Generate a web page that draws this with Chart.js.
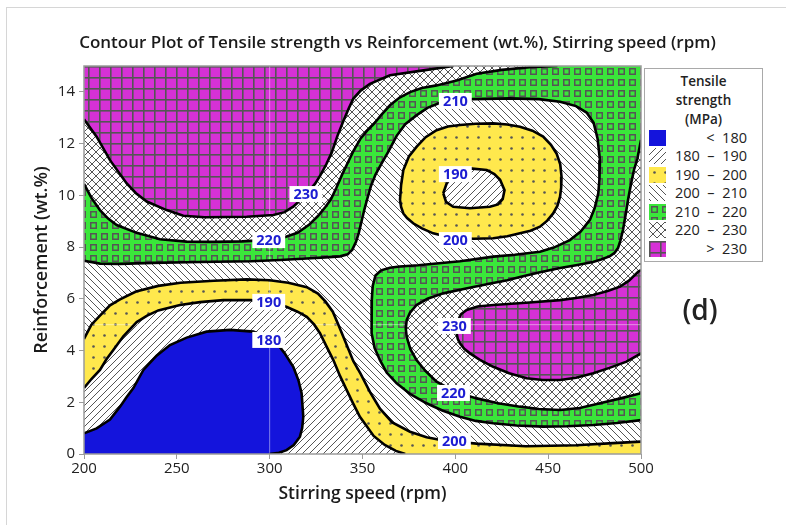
<!DOCTYPE html>
<html>
<head>
<meta charset="utf-8">
<title>Contour Plot of Tensile strength</title>
<script src="https://cdn.jsdelivr.net/npm/chart.js@4.4.1/dist/chart.umd.min.js"></script>
<style>
  html, body { margin: 0; padding: 0; background: #fff; }
  #wrap { position: relative; width: 786px; height: 525px; font-family: "Open Sans", sans-serif; color: #222; }
  #frame { position: absolute; left: 6px; top: 7px; right: 0; bottom: 0; border-top: 1px solid #d6d6d6; border-left: 1px solid #d6d6d6; pointer-events: none; }
  #legend { position: absolute; left: 644px; top: 68px; width: 119px; height: 194px; box-sizing: border-box; border: 1px solid #a9a9a9; background: #fff; }
  #legend .lt { position: absolute; left: 0; right: 0; top: 3px; text-align: center; font-size: 13.5px; font-weight: 600; line-height: 19px; }
  #legend .row { position: absolute; left: 4px; right: 15px; height: 18px; }
  #legend .row canvas { position: absolute; left: 0; top: 1px; }
  #legend .row span { position: absolute; right: 0; top: 0; font-size: 14.5px; line-height: 18px; white-space: pre; }
  #tag { position: absolute; left: 650px; width: 100px; top: 292px; text-align: center; font-size: 28px; font-weight: 600; line-height: 34px; }
</style>
</head>
<body>
<div id="wrap">
  <canvas id="chart" width="786" height="525"></canvas>
  <div id="frame"></div>
  <div id="legend"><div class="lt">Tensile<br>strength<br>(MPa)</div></div>
  <div id="tag">(d)</div>
</div>
<script>
const speedTicks = [200, 250, 300, 350, 400, 450, 500];
const reinfTicks = [0, 2, 4, 6, 8, 10, 12, 14];

// contour lines, [stirring speed (rpm), reinforcement (wt.%)]
const c180 = [[200,0.8],[206.8,0.99],[214,1.33],[219.4,1.83],[223,2.2],[226.6,2.55],[232,3.25],[239.1,3.8],[246.3,4.21],[255.3,4.5],[266,4.73],[278.6,4.8],[291.2,4.73],[299,4.5],[303.8,4.28],[308,3.9],[312.7,3.37],[315.5,2.85],[317.2,2.35],[318.1,1.44],[317.5,1.0],[316.3,0.67],[313,0.35],[309.1,0.15],[305,0.05],[300,0]];
const c190a = [[200,2.55],[204,2.9],[208.6,3.25],[212,3.65],[215.8,4.02],[221.2,4.55],[228.4,5.1],[234,5.35],[240,5.55],[251.7,5.76],[262.5,5.87],[275,5.95],[290,5.95],[300,5.85],[309,5.69],[315,5.5],[320,5.3],[324,5.0],[327.1,4.67],[331,4.1],[334.3,3.63],[338,3.0],[341.5,2.47],[345,1.95],[348.6,1.44],[352,1.1],[356,0.7],[362,0.35],[368,0.12],[373,0]];
const c190b = [[393.5,10.08],[395.3,10.45],[398,10.75],[400.7,10.9],[407.9,11.04],[416.9,10.98],[421,10.82],[424.1,10.6],[426.5,10.2],[425.5,9.85],[423,9.65],[418.6,9.56],[407.9,9.5],[398.9,9.56],[395,9.75],[393.5,10.08]];
const c200a = [[200,4.45],[204,5.0],[208.6,5.35],[214,5.75],[219.4,5.98],[228,6.28],[240,6.5],[252,6.62],[270,6.7],[287.6,6.75],[300,6.72],[310,6.62],[320,6.45],[326,6.2],[330,5.9],[334,5.5],[337,5.0],[341,4.3],[345,3.6],[349,3.1],[354,2.4],[359.4,1.75],[366,1.22],[375.6,0.86],[384.5,0.65],[395,0.5],[411.5,0.4],[438,0.3],[465,0.34],[485,0.42],[500,0.48]];
const c200b = [[370.2,9.82],[370.8,10.4],[372,10.98],[375,11.5],[379.2,11.88],[384,12.25],[389.9,12.52],[396,12.66],[402.5,12.72],[411,12.77],[420.4,12.78],[428,12.74],[434.8,12.65],[441.5,12.5],[447.3,12.27],[451.5,11.95],[454.5,11.62],[456.5,11.2],[457.2,10.72],[457,10.3],[456.4,9.95],[455,9.6],[452.7,9.3],[449.5,9.02],[445.6,8.79],[440.5,8.63],[434.8,8.53],[428,8.42],[420.4,8.34],[410,8.32],[402.5,8.34],[394.5,8.42],[388.1,8.53],[382,8.72],[377.3,8.92],[374,9.12],[372,9.3],[370.8,9.55],[370.2,9.82]];
const c210 = [[200,7.47],[208.6,7.36],[219.4,7.35],[237,7.39],[262.5,7.42],[290,7.45],[305.6,7.5],[320,7.56],[330,7.6],[337.9,7.64],[342,7.72],[344.5,7.9],[346.5,8.2],[348,8.55],[349.5,9.0],[351,9.45],[352.5,9.85],[354.5,10.35],[357,10.8],[360,11.2],[364,11.7],[368.4,12.3],[373,12.75],[379.2,13.1],[385,13.38],[391.7,13.58],[400,13.68],[409.7,13.72],[429.4,13.75],[445,13.72],[456.4,13.62],[465,13.45],[470.7,13.2],[474.5,12.8],[476.6,12.2],[477.9,11.36],[477.6,10.6],[477,10.08],[475,9.5],[472.5,9.05],[467.5,8.6],[461.7,8.27],[453,7.98],[445.6,7.82],[432,7.7],[420.4,7.63],[402.5,7.45],[380,7.3],[370,7.25],[364.8,7.2],[360,7.1],[357,6.9],[355.5,6.5],[355,5.95],[354.8,5.3],[355,4.67],[356.5,4.1],[359.4,3.63],[363,3.15],[368.4,2.73],[376,2.3],[384.5,1.96],[393,1.68],[402.5,1.44],[411,1.28],[420.4,1.19],[433,1.1],[447.3,1.06],[460,1.07],[474.3,1.12],[487,1.2],[500,1.31]];
const c220a = [[200,10.44],[204,9.9],[208.6,9.43],[213,9.1],[217.6,8.85],[228.4,8.55],[240.9,8.3],[255.3,8.21],[270,8.2],[285,8.22],[298,8.27],[308,8.38],[315,8.55],[321,8.85],[326,9.2],[330,9.55],[333,9.85],[336,10.3],[339,10.8],[342,11.25],[345,11.7],[349,12.2],[352.5,12.5],[356,12.75],[360,13.1],[364.8,13.48],[370,13.78],[375.6,13.99],[382,14.15],[389.9,14.25],[400.7,14.44],[411.5,14.7],[425,14.85],[440,14.95],[455,15]];
const c220b = [[500,12.14],[498,11.4],[496.2,10.98],[494.5,10.4],[493,9.82],[491.6,9.2],[490.3,8.66],[488.9,8.25],[487.6,7.96],[485.8,7.78],[483.3,7.65],[478.5,7.52],[474.1,7.42],[465,7.3],[456.4,7.19],[445,7.02],[434.8,6.84],[428,6.72],[420.3,6.61],[407,6.42],[393.5,6.21],[385,6.0],[379.1,5.76],[375.5,5.45],[373.8,5.18],[373.3,4.85],[373.8,4.53],[375.8,4.05],[379.1,3.63],[384,3.2],[389.9,2.8],[400,2.4],[411.5,2.15],[423,1.96],[434.8,1.83],[445,1.74],[456.4,1.7],[467,1.78],[477.9,1.96],[489,2.15],[500,2.35]];
const c230a = [[200,12.94],[206.8,12.27],[214,11.36],[223,10.46],[228,10.08],[233.8,9.76],[244.5,9.43],[253.5,9.21],[265,9.15],[287.6,9.17],[302,9.24],[308,9.35],[312.7,9.56],[317,9.85],[321,10.15],[324.5,10.45],[327.5,10.8],[330.5,11.2],[333.4,11.65],[336.5,12.3],[339.7,12.87],[342.5,13.35],[345,13.73],[349,14.05],[354,14.31],[364.8,14.64],[382.8,14.83],[398.9,15]];
const c230b = [[500,7.11],[498.6,7.05],[493.5,6.7],[488.7,6.47],[482,6.3],[474.3,6.15],[465,6.03],[456.4,5.95],[440,5.86],[420.4,5.76],[412,5.7],[406.1,5.57],[403,5.4],[401.6,5.18],[400.9,4.95],[400.7,4.67],[401.3,4.45],[402.5,4.28],[404.8,4.07],[407.9,3.89],[413,3.65],[420.4,3.37],[429,3.12],[438.4,2.93],[447,2.86],[456.4,2.86],[465,2.95],[474.3,3.12],[483,3.33],[492.2,3.57],[500,3.89]];

const legendText = ['<  180', '180  \u2013  190', '190  \u2013  200', '200  \u2013  210', '210  \u2013  220', '220  \u2013  230', '>  230'];
const legendKind = ['blue', 'fwd', 'dots', 'back', 'squares', 'cross', 'grid'];

const labelText = ['230', '220', '210', '190', '200', '190', '180', '230', '220', '200'];
const labelX = [319.5, 299.5, 400, 400, 400, 299.5, 299.5, 399.5, 399, 399.5];
const labelY = [10.05, 8.27, 13.65, 10.82, 8.27, 5.88, 4.41, 4.95, 2.36, 0.5];

// fill patterns, as in the Minitab legend
function tile(size, bg, draw) {
  const c = document.createElement('canvas');
  c.width = size; c.height = size;
  const g = c.getContext('2d');
  g.fillStyle = bg; g.fillRect(0, 0, size, size);
  g.strokeStyle = '#555'; g.fillStyle = '#555';
  draw(g, size);
  return c;
}
function diag(g, s, dir) {
  g.lineWidth = 1;
  g.beginPath();
  for (let k = -1; k <= 1; k++) {
    if (dir > 0) { g.moveTo(k * s, s); g.lineTo(k * s + s, 0); }
    else { g.moveTo(k * s, 0); g.lineTo(k * s + s, s); }
  }
  g.stroke();
}
const tiles = {
  blue: tile(8, '#1414dc', () => {}),
  fwd: tile(7, '#fff', (g, s) => diag(g, s, 1)),
  dots: tile(11, '#ffe84d', (g, s) => { g.beginPath(); g.arc(s / 2, s / 2, 1.3, 0, Math.PI * 2); g.fill(); }),
  back: tile(7, '#fff', (g, s) => diag(g, s, -1)),
  squares: tile(11, '#3ae63a', g => { g.lineWidth = 1.5; g.strokeRect(2.75, 2.75, 5.5, 5.5); }),
  cross: tile(8, '#fff', (g, s) => { diag(g, s, 1); diag(g, s, -1); }),
  grid: tile(11, '#d631d6', (g, s) => { g.fillRect(0, 0, s, 1.6); g.fillRect(0, 0, 1.6, s); })
};

const ctx = document.getElementById('chart').getContext('2d');
const fillOf = k => ctx.createPattern(tiles[k], 'repeat');

const P = a => a.map(([x, y]) => ({x, y}));
const region = (pts, bg) => ({data: P(pts), fill: 'shape', backgroundColor: bg, borderWidth: 0, borderColor: 'rgba(0,0,0,0)'});
const contour = pts => ({data: P(pts), fill: false, borderColor: '#000', borderWidth: 2.6});
const guide = pts => ({data: P(pts), fill: false, borderColor: 'rgba(255,255,255,0.45)', borderWidth: 1});

// bottom first
const layers = [
  region([[200, 0], [500, 0], [500, 15], [200, 15]], fillOf('back')),
  region(c210.concat([[500, 15], [200, 15]]), fillOf('squares')),
  region(c220a.concat([[200, 15]]), fillOf('cross')),
  region(c220b, fillOf('cross')),
  region(c230a.concat([[200, 15]]), fillOf('grid')),
  region(c230b, fillOf('grid')),
  region(c200a.concat([[500, 0], [200, 0]]), fillOf('dots')),
  region(c200b, fillOf('dots')),
  region(c190a.concat([[200, 0]]), fillOf('fwd')),
  region(c190b, fillOf('fwd')),
  region(c180.concat([[200, 0]]), '#1414dc'),
  guide([[300, 0], [300, 15]]),
  guide([[200, 5], [500, 5]]),
  contour(c180), contour(c190a), contour(c190b), contour(c200a), contour(c200b),
  contour(c210), contour(c220a), contour(c220b), contour(c230a), contour(c230b)
];
layers.forEach((d, i) => { d.order = layers.length - i; });

const framePlugin = {
  id: 'frameAndLabels',
  afterDatasetsDraw(chart) {
    const {ctx, chartArea: a, scales: {x, y}} = chart;
    ctx.save();
    ctx.strokeStyle = '#9b9b9b';
    ctx.lineWidth = 1.5;
    ctx.strokeRect(a.left, a.top, a.right - a.left, a.bottom - a.top);
    ctx.font = 'bold 14.5px "Open Sans"';
    ctx.textAlign = 'center';
    ctx.textBaseline = 'middle';
    labelText.forEach((t, i) => {
      const px = x.getPixelForValue(labelX[i]);
      const py = y.getPixelForValue(labelY[i]);
      const w = ctx.measureText(t).width + 8;
      ctx.fillStyle = '#fff';
      ctx.fillRect(px - w / 2, py - 8, w, 16);
      ctx.fillStyle = '#1c1cd2';
      ctx.fillText(t, px, py + 1);
    });
    ctx.restore();
  }
};

Chart.defaults.font.family = '"Open Sans", sans-serif';
Chart.defaults.color = '#222';

new Chart(ctx, {
  type: 'line',
  data: {datasets: layers},
  options: {
    responsive: false,
    animation: false,
    events: [],
    layout: {padding: {left: 9, right: 0, top: 0, bottom: 0}},
    elements: {point: {radius: 0}, line: {tension: 0}},
    plugins: {
      legend: {display: false},
      tooltip: {enabled: false},
      title: {
        display: true,
        text: 'Contour Plot of Tensile strength vs Reinforcement (wt.%), Stirring speed (rpm)',
        color: '#1a1a1a',
        font: {size: 17, weight: '600'},
        padding: {top: 32.8, bottom: 12.8}
      }
    },
    scales: {
      x: {
        type: 'linear', min: 200, max: 500,
        afterBuildTicks: s => { s.ticks = speedTicks.map(v => ({value: v})); },
        afterFit: s => { s.height = 71; },
        ticks: {font: {size: 15}, color: '#222', padding: 1, maxRotation: 0},
        grid: {drawOnChartArea: false, tickLength: 5, color: '#9b9b9b'},
        border: {display: false},
        title: {display: true, text: 'Stirring speed (rpm)', color: '#1a1a1a', font: {size: 17.5, weight: '600'}, padding: {top: 0, bottom: 20.5}}
      },
      y: {
        type: 'linear', min: 0, max: 15,
        afterBuildTicks: s => { s.ticks = reinfTicks.map(v => ({value: v})); },
        afterFit: s => { s.width = 75; },
        ticks: {font: {size: 15}, color: '#222', padding: 4},
        grid: {drawOnChartArea: false, tickLength: 5, color: '#9b9b9b'},
        border: {display: false},
        title: {display: true, text: 'Reinforcement (wt.%)', color: '#1a1a1a', font: {size: 18, weight: '600'}, padding: {top: 22.2, bottom: 0}}
      },
      y2: {
        position: 'right', display: true,
        ticks: {display: false}, grid: {display: false}, border: {display: false},
        afterFit: s => { s.width = 145; }
      }
    }
  },
  plugins: [framePlugin]
});

// legend
const legend = document.getElementById('legend');
legendText.forEach((t, i) => {
  const row = document.createElement('div');
  row.className = 'row';
  row.style.top = (68.7 + 18.55 * i - 9) + 'px';
  const sw = document.createElement('canvas');
  sw.width = 17; sw.height = 16;
  const g = sw.getContext('2d');
  g.fillStyle = g.createPattern(tiles[legendKind[i]], 'repeat');
  g.fillRect(0, 0, 17, 16);
  const span = document.createElement('span');
  span.textContent = t;
  row.appendChild(sw);
  row.appendChild(span);
  legend.appendChild(row);
});
</script>
</body>
</html>
